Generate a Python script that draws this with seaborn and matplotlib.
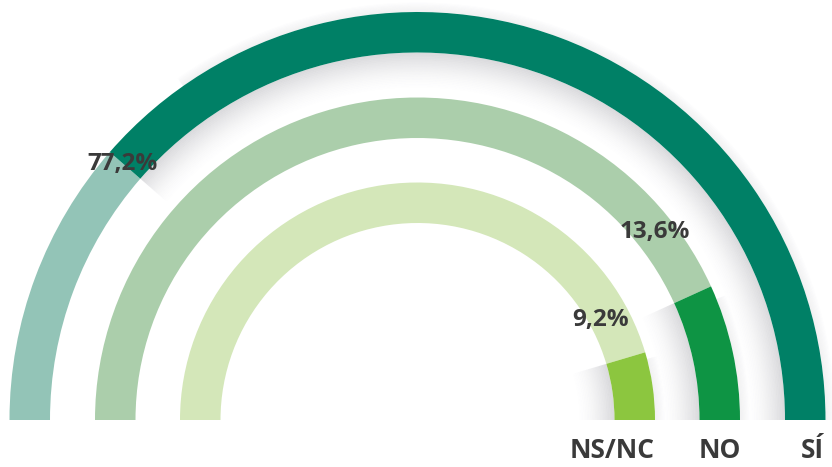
import matplotlib
matplotlib.use("Agg")
import matplotlib.pyplot as plt
from matplotlib.patches import Wedge
import seaborn as sns

# ---- data ----
categories = ["SÍ", "NO", "NS/NC"]
values = [77.2, 13.6, 9.2]
value_labels = ["77,2%", "13,6%", "9,2%"]
main_colors = ["#008066", "#0E9444", "#8CC63F"]
rest_colors = ["#93C4B7", "#ABCEAB", "#D4E7B9"]

sns.set_theme(style="white")
plt.rcParams["font.family"] = ["Open Sans", "DejaVu Sans"]

W, H = 832, 467
fig = plt.figure(figsize=(W / 100, H / 100), dpi=100)
ax = fig.add_axes([0, 0, 1, 1])
ax.set_xlim(0, W)
ax.set_ylim(H, 0)
ax.set_aspect("equal")
ax.axis("off")

cx, cy = 417.5, 420
outer_r = [408, 322.5, 237.5]
ring_w = 40.5

# label positions (image coordinates)
val_pos = [(122, 164), (655, 232), (601, 320)]
cat_pos = [(812, 451), (720, 451), (612, 451)]

for i, (cat, v) in enumerate(zip(categories, values)):
    r = outer_r[i]
    ang = v / 100 * 180
    ax.add_patch(Wedge((cx, cy), r, 180, 360 - ang, width=ring_w,
                       facecolor=rest_colors[i], edgecolor="none"))
    # soft shadow inside and outside the coloured part
    n = 22
    for k in range(n):
        ax.add_patch(Wedge((cx, cy), r - ring_w - k * 1.6, 360 - ang, 360,
                           width=1.6, facecolor="#7a7a84",
                           alpha=0.28 * (1 - k / n) ** 1.6, edgecolor="none"))
    for k in range(8):
        ax.add_patch(Wedge((cx, cy), r + (k + 1) * 1.2, 360 - ang * 0.9, 360,
                           width=1.2, facecolor="#7a7a84",
                           alpha=0.10 * (1 - k / 8), edgecolor="none"))
    ax.add_patch(Wedge((cx, cy), r, 360 - ang, 360, width=ring_w,
                       facecolor=main_colors[i], edgecolor="none"))
    ax.text(*val_pos[i], value_labels[i], ha="center", va="center",
            fontsize=17.5, fontweight="bold", color="#3a3a3a")
    ax.text(*cat_pos[i], cat, ha="center", va="center",
            fontsize=19, fontweight="bold", color="#3a3a3a")

fig.savefig("out.png", dpi=100)
